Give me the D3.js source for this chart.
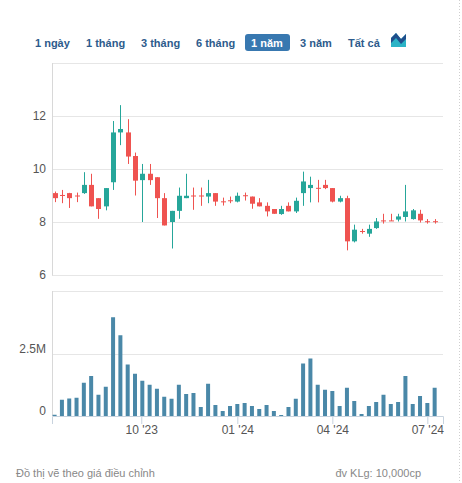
<!DOCTYPE html>
<html>
<head>
<meta charset="utf-8">
<script src="https://cdn.jsdelivr.net/npm/d3@7"></script>
<style>
  body { margin: 0; background: #fff; font-family: "Liberation Sans", Arial, sans-serif; }
</style>
</head>
<body>
<div id="chart"></div>
<script>
// weekly candles, Mondays Jul 10 2023 .. Jul 8 2024
var weeks = d3.timeMonday.range(new Date(2023, 6, 10), new Date(2024, 6, 9));

var open  = [9.09, 9.02, 9.09, 9.00, 9.09, 9.40, 8.90, 8.59, 9.50, 11.38, 11.38, 10.49, 9.58, 9.82, 9.69, 8.90, 8.00, 8.42, 8.90, 9.00, 9.00, 8.96, 9.09, 8.78, 8.82, 8.77, 9.01, 8.96, 8.74, 8.61, 8.49, 8.30, 8.61, 8.40, 9.09, 9.28, 9.29, 9.40, 9.28, 8.77, 8.90, 7.27, 7.66, 7.56, 7.77, 8.06, 8.06, 8.09, 8.19, 8.11, 8.31, 8.03, 8.03];
var high  = [9.15, 9.21, 9.10, 9.11, 9.88, 9.82, 8.90, 9.28, 11.81, 12.41, 11.88, 10.62, 10.19, 10.19, 9.69, 9.09, 8.42, 9.30, 9.82, 9.30, 9.30, 9.59, 9.09, 8.92, 8.96, 9.11, 9.11, 8.96, 8.90, 8.74, 8.49, 8.61, 8.74, 8.92, 9.90, 9.71, 9.59, 9.59, 9.28, 8.99, 8.99, 7.90, 7.74, 7.90, 8.15, 8.31, 8.31, 8.31, 9.40, 8.49, 8.46, 8.11, 8.11];
var low   = [8.75, 8.71, 8.53, 8.75, 9.06, 8.59, 8.12, 8.44, 9.21, 10.90, 10.19, 9.00, 8.00, 9.40, 8.15, 7.87, 7.00, 8.12, 8.90, 8.46, 8.61, 8.71, 8.61, 8.62, 8.71, 8.74, 8.81, 8.50, 8.59, 8.21, 8.31, 8.27, 8.40, 8.34, 8.61, 8.74, 8.74, 9.24, 8.74, 8.74, 6.93, 7.23, 7.56, 7.44, 7.74, 7.94, 8.04, 8.02, 8.02, 8.09, 7.98, 7.94, 7.94];
var close = [8.90, 9.00, 8.90, 8.98, 9.40, 8.59, 8.49, 9.28, 11.38, 11.51, 10.47, 9.56, 9.82, 9.58, 8.90, 7.87, 8.42, 8.99, 8.99, 8.98, 8.98, 9.09, 8.77, 8.76, 8.80, 8.99, 8.99, 8.69, 8.59, 8.40, 8.31, 8.49, 8.40, 8.80, 9.53, 9.40, 9.27, 9.28, 8.77, 8.90, 7.27, 7.71, 7.64, 7.74, 8.02, 8.04, 8.04, 8.21, 8.40, 8.44, 8.06, 8.01, 8.01];
// volume in millions of shares
var volume = [0.05, 0.65, 0.70, 0.73, 1.33, 1.60, 0.85, 1.17, 3.95, 3.23, 2.06, 1.69, 1.41, 1.25, 1.09, 0.77, 0.69, 1.25, 0.88, 0.92, 0.36, 1.29, 0.44, 0.20, 0.40, 0.48, 0.52, 0.40, 0.28, 0.44, 0.20, 0.04, 0.36, 0.69, 2.10, 2.30, 1.25, 1.05, 1.00, 0.40, 1.13, 0.60, 0.08, 0.40, 0.56, 0.85, 0.48, 0.56, 1.60, 0.48, 0.80, 0.52, 1.13];

var priceTicks = [6, 8, 10, 12];
var volTicks = [0, 2.5];
var dateTicks = [new Date(2023, 9, 1), new Date(2024, 0, 1), new Date(2024, 3, 1), new Date(2024, 6, 1)];
var ranges = ['1 ngày', '1 tháng', '3 tháng', '6 tháng', '1 năm', '3 năm', 'Tất cả'];
var rangeX = [35, 86, 141, 196, 251, 300, 348];

var W = 462, H = 483;
var up = '#26a69a', down = '#ef5350', volColor = '#4a88a8', grid = '#e6e6e6';
var left = 52, right = 443;

var svg = d3.select('#chart').append('svg')
  .attr('width', W).attr('height', H)
  .style('font-family', '"Liberation Sans", Arial, sans-serif');

// page edge (dotted)
svg.append('line')
  .attr('x1', 459.5).attr('x2', 459.5).attr('y1', 0).attr('y2', H)
  .attr('stroke', '#cfcfcf').attr('stroke-dasharray', '1,2');

// range buttons
var btn = svg.append('g');
btn.append('rect')
  .attr('x', 245).attr('y', 34).attr('width', 45).attr('height', 17)
  .attr('rx', 3).attr('fill', '#3878b0');
btn.selectAll('text.rng')
  .data(ranges)
  .enter().append('text')
  .attr('class', 'rng')
  .attr('x', function(d, i) { return rangeX[i]; })
  .attr('y', 47)
  .attr('font-size', '11px')
  .attr('font-weight', 'bold')
  .attr('fill', function(d) { return d === '1 năm' ? '#fff' : '#2d5b8c'; })
  .text(function(d) { return d; });

// little area-chart icon
btn.append('path')
  .attr('d', 'M391,47 L391,38 L396,33 L401,39 L406,34 L406,47 Z')
  .attr('fill', '#2bb3c6');
btn.append('path')
  .attr('d', 'M391,38 L396,33 L401,39 L406,34 L406,39 L401,44 L396,38 L391,43 Z')
  .attr('fill', '#1f4e8c');

// scales
var x = d3.scaleTime()
  .domain([new Date(2023, 6, 7, 12), new Date(2024, 6, 16)])
  .range([left, right]);
var y = d3.scaleLinear().domain([6, 14]).range([275, 63]);
var yv = d3.scaleLinear().domain([0, 5]).range([416, 291]);

// price panel frame + grid
var pg = svg.append('g');
pg.selectAll('line.grid')
  .data(priceTicks.concat([14]))
  .enter().append('line')
  .attr('x1', left).attr('x2', right)
  .attr('y1', function(d) { return Math.round(y(d)) + 0.5; })
  .attr('y2', function(d) { return Math.round(y(d)) + 0.5; })
  .attr('stroke', grid);
pg.append('line')
  .attr('x1', left + 0.5).attr('x2', left + 0.5).attr('y1', 63).attr('y2', 275.5)
  .attr('stroke', '#d8d8d8');
pg.selectAll('text')
  .data(priceTicks)
  .enter().append('text')
  .attr('x', 46).attr('y', function(d) { return y(d) + 4; })
  .attr('text-anchor', 'end')
  .attr('font-size', '12px').attr('fill', '#555')
  .text(function(d) { return d; });

// volume panel frame + grid
var vg = svg.append('g');
vg.selectAll('line.grid')
  .data([2.5, 5])
  .enter().append('line')
  .attr('x1', left).attr('x2', right)
  .attr('y1', function(d) { return Math.round(yv(d)) + 0.5; })
  .attr('y2', function(d) { return Math.round(yv(d)) + 0.5; })
  .attr('stroke', grid);
vg.append('line')
  .attr('x1', left + 0.5).attr('x2', left + 0.5).attr('y1', 291).attr('y2', 416)
  .attr('stroke', '#d8d8d8');
vg.selectAll('text')
  .data(volTicks)
  .enter().append('text')
  .attr('x', 46).attr('y', function(d) { return yv(d) - 1; })
  .attr('text-anchor', 'end')
  .attr('font-size', '12px').attr('fill', '#555')
  .text(function(d) { return d === 0 ? '0' : d + 'M'; });

// volume bars
vg.selectAll('rect.vol')
  .data(volume)
  .enter().append('rect')
  .attr('class', 'vol')
  .attr('x', function(d, i) { return x(weeks[i]) - 2; })
  .attr('width', 4)
  .attr('y', function(d) { return yv(d); })
  .attr('height', function(d) { return yv(0) - yv(d); })
  .attr('fill', volColor);

// x axis
var xAxis = svg.append('g')
  .attr('transform', 'translate(0,416)')
  .call(d3.axisBottom(x).tickValues(dateTicks).tickSize(8)
    .tickFormat(function(d) { return d3.timeFormat('%m')(d) + " '" + d3.timeFormat('%y')(d); }));
xAxis.select('.domain').attr('stroke', '#c8d3de');
xAxis.selectAll('.tick line').attr('stroke', '#c8d3de');
xAxis.selectAll('.tick text')
  .attr('font-size', '12px').attr('fill', '#555')
  .attr('font-family', '"Liberation Sans", Arial, sans-serif')
  .attr('dy', '0.6em');

// candles
var idx = d3.range(weeks.length);
var cg = svg.append('g');
cg.selectAll('line.wick')
  .data(idx)
  .enter().append('line')
  .attr('x1', function(i) { return Math.round(x(weeks[i])) + 0.5; })
  .attr('x2', function(i) { return Math.round(x(weeks[i])) + 0.5; })
  .attr('y1', function(i) { return y(high[i]); })
  .attr('y2', function(i) { return y(low[i]); })
  .attr('stroke', function(i) { return close[i] >= open[i] ? up : down; })
  .attr('stroke-width', 1);
cg.selectAll('rect.body')
  .data(idx)
  .enter().append('rect')
  .attr('x', function(i) { return Math.round(x(weeks[i])) - 2; })
  .attr('width', 5)
  .attr('y', function(i) { return y(Math.max(open[i], close[i])); })
  .attr('height', function(i) { return Math.max(1, Math.abs(y(open[i]) - y(close[i]))); })
  .attr('fill', function(i) { return close[i] >= open[i] ? up : down; });

// footer
svg.append('text')
  .attr('x', 16).attr('y', 477)
  .attr('font-size', '11px').attr('fill', '#888')
  .text('Đồ thị vẽ theo giá điều chỉnh');
svg.append('text')
  .attr('x', 421).attr('y', 477)
  .attr('text-anchor', 'end')
  .attr('font-size', '11px').attr('fill', '#888')
  .text('đv KLg: 10,000cp');
</script>
</body>
</html>
